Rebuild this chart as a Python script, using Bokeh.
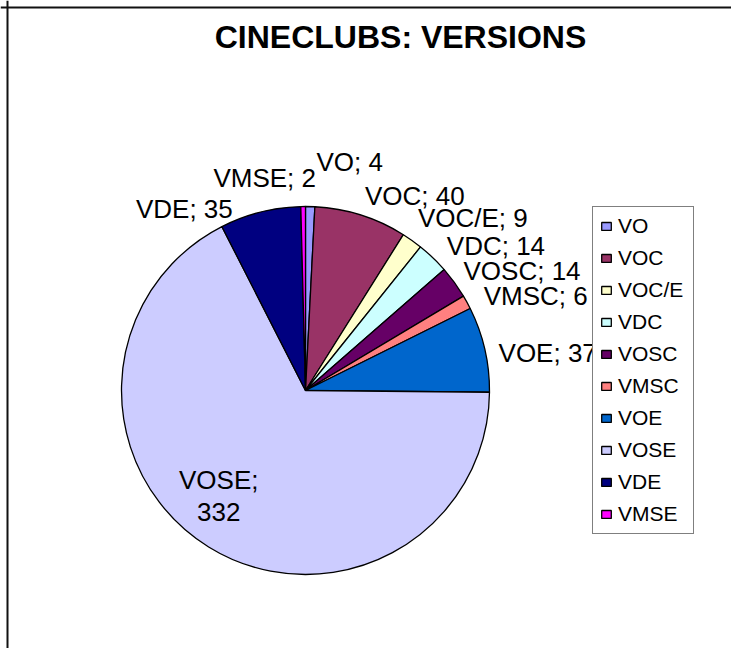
import math
from bokeh.plotting import figure
from bokeh.models import ColumnDataSource, Range1d, Span, Legend, LegendItem
from bokeh.core.properties import value
from bokeh.embed import file_html
from bokeh.resources import INLINE

# ---- data ----
categories = ["VO", "VOC", "VOC/E", "VDC", "VOSC", "VMSC", "VOE", "VOSE", "VDE", "VMSE"]
counts = [4, 40, 9, 14, 14, 6, 37, 332, 35, 2]
title_text = "CINECLUBS: VERSIONS"

# ---- style ----
colors = ["#9999FF", "#993366", "#FFFFCC", "#CCFFFF", "#660066",
          "#FF8080", "#0066CC", "#CCCCFF", "#000080", "#FF00FF"]
label_place = ["out", "out", "out", "out", "out", "out", "out", "in", "out", "out"]
# small pixel nudges (dx right, dy down) to mimic collision-avoided label placement
label_nudge = [(6, -26), (1, -1), (0, -5), (7, 4), (1, 3), (8, 8), (4, 15),
               (-17, -7), (-25, 16), (13, -10)]
BASELINE_FIX = -9   # px, compensates renderer baseline placement

W, H = 731, 648
CX, CY = 305, H - 390      # pie centre (data units = px)
R = 184

p = figure(width=W, height=H, output_backend="svg", toolbar_location=None,
           x_range=Range1d(0, W), y_range=Range1d(0, H),
           x_axis_location=None, y_axis_location=None, min_border=0)
p.outline_line_color = None
p.grid.visible = False
p.xgrid.grid_line_color = None
p.ygrid.grid_line_color = None
p.background_fill_color = "white"
p.border_fill_color = "white"

total = sum(counts)
starts, ends, mids = [], [], []
cum = 0
for c in counts:
    a0 = cum / total * 2 * math.pi          # clockwise from top
    a1 = (cum + c) / total * 2 * math.pi
    starts.append(math.pi / 2 - a1)
    ends.append(math.pi / 2 - a0)
    mids.append((a0 + a1) / 2)
    cum += c

src = ColumnDataSource(dict(cat=categories, val=counts, start=starts, end=ends, color=colors))
r = p.wedge(x=CX, y=CY, radius=R, start_angle="start", end_angle="end",
            fill_color="color", line_color="black", line_width=1.3, source=src)

# labels
lx, ly, lt, la, lb = [], [], [], [], []
for cat, v, m, place, (dx, dy) in zip(categories, counts, mids, label_place, label_nudge):
    rr = R + 10 if place == "out" else 0.72 * R
    px = CX + rr * math.sin(m)
    py = CY + rr * math.cos(m)
    lx.append(px + dx)
    if place == "in":
        ly.append(py - dy)
        lt.append(f"{cat};\n{v}")
        la.append("center")
        lb.append("middle")
    else:
        ly.append(py - dy - BASELINE_FIX)
        lt.append(f"{cat}; {v}")
        la.append("left" if math.sin(m) > 0 else "right")
        lb.append("alphabetic")
lsrc = ColumnDataSource(dict(x=lx, y=ly, t=lt, a=la, b=lb))
p.text(x="x", y="y", text="t", text_align="a", text_baseline="b", source=lsrc,
       text_font=value("Liberation Sans"), text_font_size="26px", text_color="black",
       text_line_height=1.05)

# title
p.text(x=[400], y=[H - 47 - BASELINE_FIX + 2], text=[title_text], text_align="center",
       text_baseline="alphabetic", text_font=value("Liberation Sans"),
       text_font_style="bold", text_font_size="32px", text_color="black")

# chart-area border (top and left visible)
p.add_layout(Span(location=H - 7, dimension="width", line_color="#111111", line_width=2))
p.add_layout(Span(location=7, dimension="height", line_color="#111111", line_width=2))

legend = Legend(items=[LegendItem(label=c, renderers=[r], index=i) for i, c in enumerate(categories)],
                location=(592, H - 534), orientation="vertical",
                label_text_font="Liberation Sans", label_text_font_size="21px",
                label_text_color="black",
                glyph_width=12, glyph_height=10, label_standoff=6, label_width=68,
                label_height=22, spacing=8, padding=7, margin=0,
                border_line_color="black", border_line_width=1.5,
                background_fill_color="white", background_fill_alpha=1.0)
p.add_layout(legend, "center")

open("out.html", "w").write(file_html(p, INLINE))
